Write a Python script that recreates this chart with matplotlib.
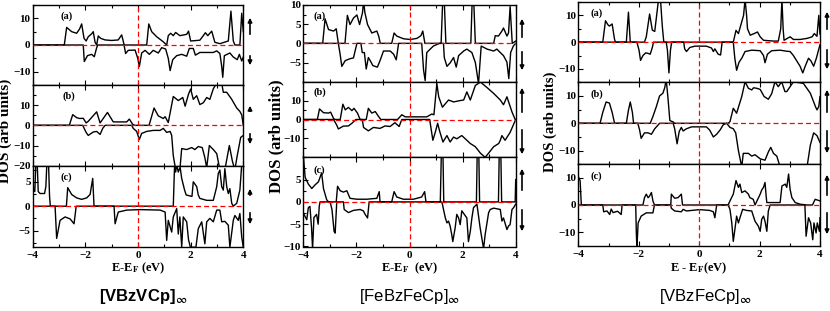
import numpy as np
import matplotlib
matplotlib.use("Agg")
import matplotlib.pyplot as plt
from matplotlib.patches import FancyArrowPatch
from matplotlib.ticker import AutoMinorLocator

plt.rcParams['font.family'] = ['Liberation Serif', 'DejaVu Serif']
plt.rcParams['font.weight'] = 'bold'
plt.rcParams['mathtext.fontset'] = 'stix'

# ---------------- data: (E - Ef, DOS) ----------------
# [VBzVCp]
vv_a_up = [(-4, 0), (-2.80, 0), (-2.71, 6.6), (-2.52, 5.0), (-2.33, 4.4), (-2.22, 6.0), (-2.14, 7.9),
           (-2.05, 2.5), (-1.97, 1.5), (-1.89, 3.1), (-1.76, 4.2), (-1.70, 5.0), (-1.63, 1.0), (-1.57, 0),
           (-1.51, 3.4), (-1.42, 2.5), (-1.25, 1.9), (-1.0, 1.7), (-0.75, 1.9), (-0.62, 3.8), (-0.53, 0.2),
           (-0.50, 0), (0.33, 0), (0.41, 7.9), (0.52, 5.0), (0.71, 3.1), (0.96, 1.2), (1.09, 0), (1.15, 3.5),
           (1.24, 4.4), (1.34, 3.5), (1.43, 4.7), (1.59, 3.5), (1.85, 4.0), (1.92, 5.2), (2.00, 1.5),
           (2.35, 1.8), (2.48, 3.5), (2.56, 4.6), (2.65, 3.5), (2.80, 5.2), (2.92, 1.0), (3.11, 0.5),
           (3.43, 1.5), (3.53, 12.7), (3.62, 1.5), (3.68, 0), (3.87, 0), (3.94, 11.9), (4.0, 5)]
vv_a_dn = [(-4, 0), (-2.08, 0), (-2.04, -6.2), (-1.92, -4.0), (-1.76, -3.5), (-1.66, -4.4), (-1.57, -1.0),
           (-1.53, 0), (-0.53, 0), (-0.47, -3.2), (-0.37, -2.0), (-0.11, -1.9), (-0.01, -5), (0.05, -8.1),
           (0.14, -3), (0.27, -2), (0.43, -3.5), (0.58, -2), (0.77, -3), (0.90, -1), (1.05, -1.5), (1.15, -5),
           (1.22, -9.6), (1.32, -5.5), (1.47, -4), (1.66, -3.5), (1.85, -4.2), (1.95, -1.3), (2.10, -1.3),
           (2.18, -3.8), (2.35, -2.8), (2.86, -2.8), (2.99, -2.2), (3.11, -3.2), (3.18, -8), (3.22, -12.1),
           (3.28, -4), (3.49, -3), (3.62, -4.5), (3.77, -5.5), (3.85, -3.5), (3.94, -6), (4.0, -4.5)]
vv_b_up = [(-4, 0), (-2.61, 0), (-2.48, 5.3), (-2.33, 3.8), (-2.22, 3.4), (-2.08, 3.5), (-1.97, 1.2),
           (-1.89, 2.0), (-1.57, 6.7), (-1.44, 1.2), (-1.16, 6.4), (-0.94, 1.7), (-0.43, 1.7), (-0.33, 3.1),
           (-0.20, 0.5), (-0.12, 0), (0.42, 0), (0.61, 8.6), (0.77, 4.7), (0.96, 3.4), (1.03, 4.3), (1.15, 1.4),
           (1.34, 14.3), (1.53, 12.3), (1.70, 13.8), (1.79, 9.5), (1.92, 15.5), (2.0, 18), (2.10, 12.9),
           (2.23, 14.7), (2.35, 10.3), (2.48, 11.2), (2.61, 13.8), (2.73, 12.9), (2.86, 18.1), (2.99, 21),
           (3.18, 21), (3.24, 16.4), (3.37, 16.4), (3.56, 12.9), (3.75, 8.6), (3.87, 6.9), (3.94, 5.2), (4.0, 0)]
vv_b_dn = [(-4, 0), (-2.10, 0), (-1.97, -3.5), (-1.89, -5.0), (-1.70, -3.3), (-1.57, -3.0), (-1.44, -4.5),
           (-1.34, -1.5), (-1.25, 0), (-0.24, 0), (-0.18, -1.5), (-0.05, -3), (0.05, -7), (0.14, -4),
           (0.33, -3), (0.58, -2.5), (0.84, -2.5), (0.96, -1.5), (1.09, -3.5), (1.22, -3), (1.28, -5),
           (1.34, -15), (1.43, -22), (1.59, -22), (1.66, -11.5), (1.85, -12), (2.04, -11), (2.16, -12),
           (2.29, -10.5), (2.44, -11), (2.54, -16), (2.61, -21), (2.71, -10), (2.86, -12), (2.99, -14),
           (3.11, -22), (3.30, -22), (3.47, -10), (3.59, -18), (3.68, -22), (3.77, -15), (3.90, -6), (4.0, -5)]
vv_c_up = [(-4.0, 9), (-3.97, 3.2), (-3.92, 3.0), (-3.88, 9), (-3.83, 9), (-3.79, 3.0), (-3.72, 2.6),
           (-3.55, 2.6), (-3.50, 4), (-3.46, 9), (-3.40, 9), (-3.36, 2), (-3.33, 0), (-2.72, 0), (-2.67, 3.8),
           (-2.52, 2.4), (-2.33, 1.7), (-2.14, 1.4), (-1.95, 1.7), (-1.82, 2.4), (-1.72, 5.7), (-1.67, 0),
           (1.34, 0), (1.39, 8.5), (1.43, 7.0), (1.47, 8.5), (1.53, 7.0), (1.60, 8.0), (1.66, 5.7),
           (1.77, 3.3), (1.83, 2.3), (2.05, 2.0), (2.10, 5.0), (2.23, 4.0), (2.29, 2.3), (2.35, 1.6),
           (2.61, 1.2), (2.86, 1.2), (2.99, 4.0), (3.05, 6.7), (3.11, 7.4), (3.18, 4.0), (3.24, 3.3),
           (3.30, 7.7), (3.37, 4.0), (3.43, 2.6), (3.49, 3.6), (3.56, 0.6), (3.62, 0), (3.75, 0.6),
           (3.87, 3.3), (3.94, 8.5), (4.0, 9)]
vv_c_dn = [(-4, 0), (-3.15, 0), (-3.09, -6.6), (-2.96, -2.9), (-2.77, -2.2), (-2.58, -2.6), (-2.43, -3.6),
           (-2.37, -1), (-2.35, 0), (-0.91, 0), (-0.87, -3.6), (-0.75, -1.2), (-0.43, -0.8), (0.08, -0.7),
           (0.84, -0.8), (1.03, -1.2), (1.09, -7), (1.15, -2.9), (1.22, -4.2), (1.28, -5.3), (1.34, -2.2),
           (1.47, -0.5), (1.53, -5.7), (1.59, -2.2), (1.66, -8.4), (1.72, -2.2), (1.85, -3.2), (1.92, -6.9),
           (1.99, -8.4), (2.20, -8.4), (2.29, -4.6), (2.42, -3.2), (2.54, -7.7), (2.61, -3.2), (2.73, -2.5),
           (2.86, -3.2), (2.99, -0.8), (3.11, -0.8), (3.18, -3.2), (3.30, -3.1), (3.43, -3.9), (3.49, -8.4),
           (3.62, -2.9), (3.68, -1.9), (3.81, -2.9), (3.87, -1.5), (3.94, -6.3), (4.0, -8.4)]

# [FeBzFeCp]
ff_a_up = [(-4, 0), (-3.27, 0), (-3.18, 6.4), (-3.05, 3.6), (-2.86, 3.2), (-2.76, 3.8), (-2.68, 0),
           (-2.43, 0), (-2.34, 7.3), (-2.24, 4.9), (-2.11, 6.6), (-1.98, 7.4), (-1.88, 4.9), (-1.77, 8),
           (-1.73, 11), (-1.68, 8), (-1.58, 4.9), (-1.42, 2.7), (-1.23, 3.2), (-1.16, 1.9), (-1.10, 0),
           (-0.67, 0), (-0.58, 2.7), (-0.48, 1.9), (-0.23, 1.2), (0.03, 1.0), (0.28, 1.3), (0.43, 2.0),
           (0.50, 3.2), (0.58, 0), (1.19, 0), (1.25, 11), (1.31, 11), (1.37, 0), (2.31, 0), (2.36, 11),
           (2.42, 11), (2.48, 0), (3.17, 0), (3.23, 2.0), (3.35, 1.9), (3.48, 3.2), (3.54, 4.0), (3.67, 1.9),
           (3.73, 2.7), (3.79, 9.6), (3.87, 0), (4.0, 0.6)]
ff_a_dn = [(-4, 0), (-2.68, 0), (-2.61, -3), (-2.55, -6.0), (-2.42, -4.5), (-2.24, -4.0), (-2.11, -3.8),
           (-2.05, -2.0), (-1.98, 0), (-1.83, 0), (-1.78, -2.4), (-1.70, -2.4), (-1.63, -6.7), (-1.55, -3.7),
           (-1.48, -4.5), (-1.38, -5.8), (-1.21, -6.2), (-1.11, -4.5), (-0.98, -2.0), (-0.73, -2.0),
           (-0.60, -2.8), (-0.50, -4.3), (-0.41, 0), (0.46, 0), (0.53, -7), (0.59, -9.7), (0.65, -2.4),
           (0.78, -1.5), (0.90, -0.7), (1.13, 0), (1.28, 0), (1.31, -3.7), (1.41, -6), (1.53, -5.1),
           (1.66, -3.7), (1.76, -6.2), (1.85, -3.2), (2.04, -2.0), (2.16, -1.5), (2.35, -2.4), (2.48, -5),
           (2.60, -10.5), (2.70, -0.7), (2.92, -1.5), (3.17, -2.0), (3.29, -1.5), (3.42, -2.4), (3.54, -3.2),
           (3.67, -4.9), (3.74, -9.2), (3.81, -2.4), (3.91, -0.7), (4.0, 0)]
ff_b_up = [(-4, 0), (-3.47, 0), (-3.39, 5.6), (-3.24, 3.6), (-3.05, 3.4), (-2.97, 3.9), (-2.86, 0.5),
           (-2.80, 0), (-2.61, 0), (-2.51, 8.1), (-2.42, 5.1), (-2.30, 6.4), (-2.17, 4.7), (-2.09, 5.9),
           (-1.96, 3.4), (-1.86, 0), (-1.63, 0), (-1.55, 5.9), (-1.42, 3.4), (-1.29, 4.2), (-1.17, 1.7),
           (-1.08, 0), (-0.45, 0), (-0.29, 2.5), (-0.16, 1.4), (0.65, 1.4), (0.84, 2.9), (0.92, 2.5),
           (1.03, 19), (1.10, 12), (1.24, 6.5), (1.47, 10.3), (1.66, 9.3), (1.90, 10.0), (2.04, 10.3),
           (2.16, 14.6), (2.29, 10.3), (2.48, 18), (2.67, 19.8), (2.92, 16.9), (3.17, 13.8), (3.42, 10.3),
           (3.54, 7.8), (3.67, 12), (3.86, 4), (3.98, 0), (4.0, 0)]
ff_b_dn = [(-4, 0), (-2.86, 0), (-2.74, -3), (-2.68, -5), (-2.49, -3.5), (-2.30, -3.4), (-2.17, -2.0),
           (-2.02, 0), (-1.78, 0), (-1.73, -4.2), (-1.55, -6), (-1.36, -4.2), (-1.11, -4.7), (-0.92, -3.4),
           (-0.73, -3.7), (-0.55, -1.7), (-0.39, -3.7), (-0.29, 0), (0.76, 0), (0.88, -11), (0.97, -6.8),
           (1.06, -2), (1.13, -5.9), (1.26, -11.9), (1.41, -8.5), (1.53, -11.9), (1.66, -9.3), (1.78, -10.2),
           (1.97, -8.5), (2.10, -10.2), (2.29, -12.7), (2.48, -14.4), (2.67, -17.8), (2.85, -20),
           (2.98, -17.8), (3.17, -14.4), (3.36, -12.7), (3.42, -11), (3.48, -8.5), (3.60, -11), (3.79, -6.8),
           (4.0, 0)]
ff_c_up = [(-4.0, 10.5), (-3.93, 5.5), (-3.81, 4.0), (-3.68, 3.0), (-3.56, 3.8), (-3.43, 4.5), (-3.31, 6.5),
           (-3.24, 3.0), (-3.12, 0.5), (-3.05, 0), (-2.76, 0), (-2.71, 3.5), (-2.61, 2.5), (-2.49, 2.2),
           (-2.36, 2.5), (-2.24, 0.8), (-1.98, 0.6), (-1.61, 0.6), (-1.23, 0.8), (-1.14, 2.3), (-1.11, 0),
           (-0.67, 0), (-0.58, 2.3), (-0.48, 1.1), (-0.23, 0.6), (0.15, 0.6), (0.46, 1.1), (0.57, 2.3),
           (0.62, 0), (1.16, 0), (1.20, 11), (1.26, 11), (1.29, 0), (2.52, 0), (2.55, 11), (2.61, 11),
           (2.64, 0), (3.35, 0), (3.38, 11), (3.44, 11), (3.47, 0), (3.98, 0), (4.0, 5)]
ff_c_dn = [(-4.0, -2.5), (-3.94, -3.2), (-3.87, -4), (-3.81, -1.3), (-3.75, -1.0), (-3.69, -5.8),
           (-3.65, -10.5), (-3.60, -3.5), (-3.50, -2.8), (-3.44, -5), (-3.40, -1), (-3.37, 0), (-2.99, 0),
           (-2.92, -1.7), (-2.84, -6.6), (-2.80, -7), (-2.74, 0), (-2.49, 0), (-2.46, -1.7), (-2.30, -2.4),
           (-2.11, -1.9), (-1.86, -1.7), (-1.74, -2.0), (-1.67, -2.8), (-1.58, -3.6), (-1.52, 0), (1.22, 0),
           (1.35, -3.6), (1.41, -4.7), (1.47, -4.3), (1.53, -5.4), (1.59, -7.3), (1.63, -8.9), (1.72, -5.8),
           (1.78, -2.8), (1.85, -3.6), (1.91, -5.1), (1.97, -2.0), (2.16, -3.6), (2.22, -8.9), (2.29, -6.6),
           (2.35, -3.6), (2.41, -1.3), (2.54, -0.5), (2.66, -5.8), (2.79, -10.5), (2.85, -7.3), (2.98, -2.4),
           (3.04, -1.7), (3.17, -1.4), (3.42, -1.7), (3.48, -4.3), (3.54, -3.6), (3.67, -6.2), (3.73, -5.4),
           (3.79, -5.1), (3.86, -1.7), (3.92, -1.3), (4.0, -0.5)]

# [VBzFeCp]
vf_a_up = [(-4, 0), (-3.19, 0), (-3.10, 8.0), (-3.02, 6.5), (-2.97, 6.0), (-2.88, 6.8), (-2.80, 1),
           (-2.77, 0), (-2.41, 0), (-2.34, 11.2), (-2.28, 0), (-1.81, 0), (-1.75, 2), (-1.64, 10.5),
           (-1.55, 4.5), (-1.47, 4.0), (-1.36, 14.5), (-1.28, 16), (-1.22, 6), (-1.17, 0), (1.13, 0),
           (1.22, 4.4), (1.30, 3.2), (1.47, 10), (1.52, 16), (1.57, 10), (1.60, 5), (1.69, 2.6), (1.82, 3.2),
           (1.93, 3.8), (2.02, 2.0), (2.13, 0.7), (2.46, 0.4), (2.62, 0.4), (2.70, 5), (2.74, 16), (2.78, 5),
           (2.81, 0.7), (3.01, 2.0), (3.12, 1.0), (3.34, 1.0), (3.57, 1.4), (3.74, 2.0), (3.81, 3.2),
           (3.90, 2.2), (3.96, 10), (4.0, 3)]
vf_a_dn = [(-4, 0), (-2.06, 0), (-1.99, -3), (-1.94, -6.8), (-1.86, -5), (-1.77, -4), (-1.69, -4.2),
           (-1.62, -4.5), (-1.55, -2), (-1.51, 0), (-1.09, 0), (-1.05, -3), (-1.0, -11.5), (-0.95, -3),
           (-0.91, 0), (-0.51, 0), (-0.48, -2.5), (-0.42, -3.5), (-0.31, -2.0), (-0.14, -1.5), (0.24, -1.5),
           (0.41, -2.2), (0.47, -3.5), (0.52, -2.5), (0.63, -4.5), (0.71, -4.8), (0.76, 0), (1.13, 0),
           (1.18, -6), (1.24, -10.5), (1.32, -7.5), (1.41, -6), (1.52, -3.5), (1.74, -3), (2.02, -3.2),
           (2.13, -5), (2.18, -7.7), (2.26, -4.5), (2.40, -3.2), (2.68, -3), (2.90, -3.4), (3.01, -3.5),
           (3.12, -5), (3.23, -7), (3.34, -9), (3.43, -11.5), (3.51, -9), (3.62, -6), (3.70, -7), (3.79, -9),
           (3.88, -6), (3.95, -3), (4.0, -1)]
vf_b_up = [(-4, 0), (-3.28, 0), (-3.19, 4), (-3.08, 7.8), (-2.97, 7.4), (-2.88, 4), (-2.80, 0), (-2.41, 0),
           (-2.34, 4.8), (-2.28, 7.8), (-2.21, 4), (-2.17, 0), (-1.62, 0), (-1.53, 2.5), (-1.42, 6),
           (-1.31, 10), (-1.20, 11), (-1.14, 13), (-1.09, 16), (-1.03, 9), (-0.97, 1), (-0.86, 0.5),
           (-0.81, 0), (0.96, 0), (1.02, 0.6), (1.13, 5.5), (1.24, 3.7), (1.41, 9.8), (1.52, 15.2),
           (1.63, 12.8), (1.74, 12.2), (1.80, 13.0), (1.91, 12.8), (2.02, 12.4), (2.15, 9.8), (2.29, 8.8),
           (2.40, 10.8), (2.51, 15.2), (2.62, 13.4), (2.73, 15.2), (2.84, 11.6), (2.90, 11.6), (3.01, 13.4),
           (3.12, 15.2), (3.45, 14.6), (3.68, 11), (3.85, 6.1), (3.90, 4.9), (3.96, 6.1), (4.0, 9.8)]
vf_b_dn = [(-4, 0), (-2.03, 0), (-1.97, -2.5), (-1.92, -5.5), (-1.81, -3.5), (-1.69, -3.5), (-1.58, -4),
           (-1.47, -2), (-1.31, 0), (-0.86, 0), (-0.81, -2), (-0.73, -7.5), (-0.66, -3), (-0.59, -1.5),
           (-0.53, -2.8), (-0.42, -2), (-0.25, -1.3), (0.24, -1.3), (0.35, -2.5), (0.47, -5), (0.58, -4),
           (0.69, -2.5), (0.80, -0.5), (0.91, 0), (1.02, -1.5), (1.13, -2), (1.21, -3.5), (1.30, -10),
           (1.41, -16), (1.46, -11), (1.63, -11), (1.74, -12), (1.85, -11.5), (2.02, -13), (2.18, -13.5),
           (2.29, -10.5), (2.37, -8.8), (2.46, -11), (2.57, -12), (2.68, -16), (3.12, -16), (3.57, -16),
           (3.68, -8), (3.79, -3.5), (3.90, -4.5), (4.0, -7)]
vf_c_up = [(-4.0, 10.5), (-3.94, 9), (-3.90, 0), (-1.86, 0), (-1.81, 2.7), (-1.75, 4), (-1.69, 2.7),
           (-1.64, 3.3), (-1.58, 4.6), (-1.53, 1.5), (-1.48, 0), (-0.94, 0), (-0.92, 4), (-0.81, 2.5),
           (-0.70, 2.7), (-0.59, 4), (-0.55, 0), (0.96, 0), (1.02, 1.5), (1.13, 4), (1.22, 9), (1.30, 6.5),
           (1.35, 7.7), (1.41, 4.6), (1.52, 5.2), (1.63, 4), (1.68, 2.7), (1.79, 2.1), (1.85, 0), (2.02, 4),
           (2.07, 5.5), (2.13, 6.5), (2.18, 8.3), (2.22, 3), (2.24, 0.9), (2.68, 0.9), (2.74, 7), (2.85, 7.7),
           (2.90, 6.5), (2.96, 11.4), (3.01, 5.8), (3.07, 2.7), (3.18, 0.9), (3.34, 0.3), (3.57, 0),
           (3.75, 0), (3.84, 2.1), (4.0, 1.5)]
vf_c_dn = [(-4, 0), (-3.19, 0), (-3.16, -2.5), (-3.05, -2.2), (-2.96, -3.5), (-2.91, -1.5), (-2.85, -2.8),
           (-2.70, -2.3), (-2.58, -3.5), (-2.55, 0), (-2.10, 0), (-2.08, -10), (-2.06, -16), (-2.02, -6.6),
           (-1.92, -4.1), (-1.75, -2.9), (-1.53, -2.9), (-1.48, 0), (-0.94, 0), (-0.92, -1.2), (-0.81, -2.2),
           (-0.59, -2.5), (-0.53, -1.6), (-0.42, -2.2), (-0.25, -2.0), (0.02, -1.7), (0.35, -2.0),
           (0.47, -2.5), (0.52, -4.7), (0.58, 0), (0.96, 0), (1.02, -1.6), (1.08, -6.6), (1.13, -13.4),
           (1.19, -8.4), (1.24, -4.1), (1.30, -6.6), (1.35, -4.7), (1.44, -1.6), (1.57, -2.0), (1.74, -2.2),
           (1.85, -6), (1.96, -7.8), (2.02, -9.7), (2.07, -5.3), (2.13, -4.1), (2.18, -6), (2.24, -9.7),
           (2.29, -2.2), (2.35, 0), (3.50, 0), (3.54, -11.5), (3.62, -4.7), (3.69, -6.6), (3.76, -12.8),
           (3.80, -6.6), (3.87, -10.3), (3.91, -6.6), (3.98, -9.7), (4.0, -4.7)]

titles = [r'[VBzVCp]$_{\infty}$', r'[FeBzFeCp]$_{\infty}$', r'[VBzFeCp]$_{\infty}$']
xlabels = [r'E-E$_{\mathbf{F}}$ (eV)', r'E-E$_{\mathbf{F}}$  (eV)', r'E - E$_{\mathbf{F}}$(eV)']
panel_tags = ['(a)', '(b)', '(c)']

# ---------------- layout (pixels) ----------------
W, H = 830, 311
fig = plt.figure(figsize=(W / 100, H / 100), dpi=100)

cols = [
    dict(l=32.7, r=243.3, edges=[5, 85, 165.7, 246.7], data=[(vv_a_up, vv_a_dn), (vv_b_up, vv_b_dn), (vv_c_up, vv_c_dn)],
         ylims=[(-15, 15), (-20, 20), (-8.3, 8.3)], yticks=[[-10, 0, 10], [-20, -10, 0, 10], [-5, 0, 5]],
         tagx=[0.13, 0.14, 0.13], ylab=(5.5, 131, 11), xlab=(138, 268.5), title=(143, 297), bold_title=True,
         arrx=250, arrows=[(37, 15, 53, 68), (114, 103, 131, 147), (198, 186, 210, 227)]),
    dict(l=303.3, r=515.7, edges=[5, 81.7, 157.3, 246.5], data=[(ff_a_up, ff_a_dn), (ff_b_up, ff_b_dn), (ff_c_up, ff_c_dn)],
         ylims=[(-10, 10), (-20, 20), (-10, 10)], yticks=[[-5, 0, 5, 10], [-10, 0, 10], [-10, -5, 0, 5]],
         tagx=[0.05, 0.05, 0.05], ylab=(276, 136, 12), xlab=(410, 268.5), title=(410, 297), bold_title=False,
         arrx=522, arrows=[(40, 16, 49, 73), (115, 85, 127, 157), (193, 166, 207, 234)]),
    dict(l=578.3, r=820, edges=[2, 82.3, 164.3, 245.7], data=[(vf_a_up, vf_a_dn), (vf_b_up, vf_b_dn), (vf_c_up, vf_c_dn)],
         ylims=[(-15, 15), (-15, 15), (-15, 15)], yticks=[[-10, 0, 10], [-10, 0, 10], [-10, 0, 10]],
         tagx=[0.05, 0.05, 0.05], ylab=(550, 122, 10.5), xlab=(699, 268), title=(705, 297), bold_title=False,
         arrx=827, arrows=[(32, 9, 47, 72), (115, 87, 128, 156), (198, 172, 210, 237)]),
]


def fx(x):
    return x / W


def fy(y):
    return 1 - y / H


for ci, col in enumerate(cols):
    for pi in range(3):
        top, bot = col['edges'][pi], col['edges'][pi + 1]
        ax = fig.add_axes([fx(col['l']), fy(bot), (col['r'] - col['l']) / W, (bot - top) / H])
        up, dn = col['data'][pi]
        e, v = np.array(up).T
        ax.plot(e, v, color='black', lw=1.0, zorder=3)
        e, v = np.array(dn).T
        ax.plot(e, v, color='black', lw=1.0, zorder=3)
        ax.axhline(0, color='red', ls=(0, (4, 2.5)), lw=0.9, zorder=4)
        ax.axvline(0, color='red', ls=(0, (4, 2.5)), lw=0.9, zorder=4)
        ax.set_xlim(-4, 4)
        ax.set_ylim(*col['ylims'][pi])
        ax.set_xticks([-4, -2, 0, 2, 4])
        ax.set_xticks([-3, -1, 1, 3], minor=True)
        ax.set_yticks(col['yticks'][pi])
        ax.yaxis.set_minor_locator(AutoMinorLocator(2))
        ax.tick_params(which='both', direction='in', top=True, labelsize=8)
        ax.tick_params(axis='y', pad=1.5)
        ax.tick_params(axis='x', pad=3)
        ax.tick_params(which='major', length=3.5, width=0.8)
        ax.tick_params(which='minor', length=2, width=0.8)
        for s in ax.spines.values():
            s.set_linewidth(1.0)
        if pi < 2:
            ax.tick_params(labelbottom=False)
        ax.text(col['tagx'][pi], 0.86, panel_tags[pi], transform=ax.transAxes,
                fontsize=7.5, fontweight='bold', va='center')

        # spin arrows
        y_up0, y_up1, y_dn0, y_dn1 = col['arrows'][pi]
        for y0, y1 in [(y_up0, y_up1), (y_dn0, y_dn1)]:
            arr = FancyArrowPatch((fx(col['arrx']), fy(y0)), (fx(col['arrx']), fy(y1)),
                                  transform=fig.transFigure, arrowstyle='-|>', mutation_scale=6,
                                  lw=1.2, color='black')
            fig.add_artist(arr)

    lx, ly, lsize = col['ylab']
    fig.text(fx(lx), fy(ly), 'DOS (arb units)', rotation=90,
             ha='center', va='center', fontsize=lsize, fontweight='bold')
    fig.text(fx(col['xlab'][0]), fy(col['xlab'][1]), xlabels[ci],
             ha='center', va='center', fontsize=9, fontweight='bold')
    fig.text(fx(col['title'][0]), fy(col['title'][1]), titles[ci], ha='center', va='center',
             fontsize=12, family='Liberation Sans',
             fontweight='bold' if col['bold_title'] else 'normal')

fig.savefig('out.png', dpi=100)
